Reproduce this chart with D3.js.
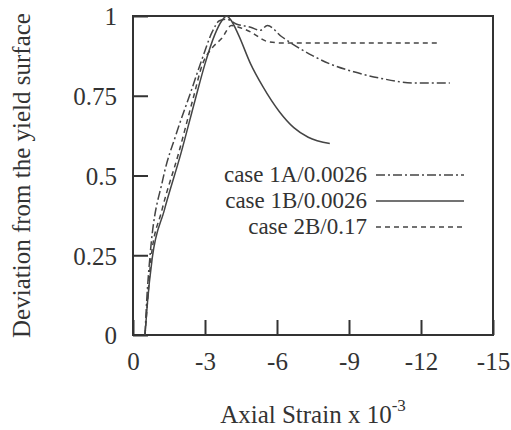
<!DOCTYPE html>
<html>
<head>
<meta charset="utf-8">
<script src="https://cdn.jsdelivr.net/npm/d3@7"></script>
<style>
  body { margin: 0; background: #fff; }
  text { font-family: "Liberation Serif", "DejaVu Serif", serif; fill: #333; }
</style>
</head>
<body>
<svg id="chart"></svg>
<script>
// strain values are in units of 10^-3 (negative = compression)
const xTicks = [0, -3, -6, -9, -12, -15];
const yTicks = [0, 0.25, 0.5, 0.75, 1];

const case1A = [
  [-0.5, 0], [-0.58, 0.12], [-0.7, 0.24], [-1.25, 0.49], [-1.8, 0.63], [-2.4, 0.76],
  [-2.9, 0.87], [-3.3, 0.95], [-3.6, 0.985], [-3.9, 0.99], [-4.3, 0.975], [-4.9, 0.965],
  [-5.3, 0.955], [-5.6, 0.97], [-6.2, 0.935], [-6.8, 0.905], [-7.5, 0.875], [-8.2, 0.85],
  [-9.2, 0.825], [-10.3, 0.805], [-11.7, 0.79], [-13.2, 0.79]
];
const case1B = [
  [-0.5, 0], [-0.6, 0.1], [-0.8, 0.24], [-1.3, 0.39], [-2.0, 0.57], [-2.6, 0.74],
  [-3.0, 0.85], [-3.4, 0.94], [-3.7, 0.985], [-3.9, 1.0], [-4.1, 0.985], [-4.4, 0.94],
  [-4.9, 0.85], [-5.4, 0.78], [-6.1, 0.70], [-6.7, 0.65], [-7.3, 0.62], [-8.2, 0.60]
];
const case2B = [
  [-0.5, 0], [-0.6, 0.1], [-0.75, 0.24], [-1.2, 0.39], [-1.9, 0.57], [-2.5, 0.74],
  [-2.9, 0.85], [-3.3, 0.9], [-3.7, 0.93], [-4.1, 0.97], [-4.4, 0.965], [-4.9, 0.95],
  [-5.6, 0.92], [-6.3, 0.915], [-12.8, 0.915]
];

const series = [
  { name: "case 1A/0.0026", data: case1A, dash: "9,3,2,3" },
  { name: "case 1B/0.0026", data: case1B, dash: null },
  { name: "case 2B/0.17", data: case2B, dash: "5,4" }
];

const W = 511, H = 430;
const box = { left: 133, right: 493, top: 16, bottom: 335 };
const fontSize = "25px";

const svg = d3.select("#chart").attr("width", W).attr("height", H);

const x = d3.scaleLinear().domain([0, -15]).range([box.left, box.right]);
const y = d3.scaleLinear().domain([0, 1]).range([box.bottom, box.top]);

const fmt = d => String(d);

// axes with inward ticks
const gx = svg.append("g")
  .attr("transform", `translate(0,${box.bottom})`)
  .call(d3.axisBottom(x).tickValues(xTicks).tickFormat(fmt).tickSizeInner(-15).tickSizeOuter(0).tickPadding(17));
const gy = svg.append("g")
  .attr("transform", `translate(${box.left},0)`)
  .call(d3.axisLeft(y).tickValues(yTicks).tickFormat(fmt).tickSizeInner(-15).tickSizeOuter(0).tickPadding(16));

[gx, gy].forEach(g => {
  g.select(".domain").remove();
  g.selectAll(".tick line").attr("stroke", "#333").attr("stroke-width", 2);
  g.selectAll(".tick text").style("font-size", fontSize).attr("fill", "#333");
});
gy.selectAll(".tick text").attr("dy", "0.35em");

// frame
svg.append("rect")
  .attr("x", box.left).attr("y", box.top)
  .attr("width", box.right - box.left).attr("height", box.bottom - box.top)
  .attr("fill", "none").attr("stroke", "#333").attr("stroke-width", 2);

const line = d3.line()
  .x(d => x(d[0]))
  .y(d => y(d[1]))
  .curve(d3.curveMonotoneX);

svg.selectAll(".series")
  .data(series)
  .enter()
  .append("path")
  .attr("class", "series")
  .attr("d", d => line(d.data))
  .attr("fill", "none")
  .attr("stroke", "#444")
  .attr("stroke-width", 1.5)
  .attr("stroke-dasharray", d => d.dash);

// legend (tight rows like the original)
const leg = svg.append("g");
series.forEach((s, i) => {
  const base = 182 + i * 26;
  leg.append("text")
    .attr("x", 367).attr("y", base)
    .attr("text-anchor", "end")
    .style("font-size", "23px")
    .text(s.name);
  leg.append("line")
    .attr("x1", 376).attr("x2", 464)
    .attr("y1", base - 7).attr("y2", base - 7)
    .attr("stroke", "#444").attr("stroke-width", 1.5)
    .attr("stroke-dasharray", s.dash);
});

// axis titles
svg.append("text")
  .attr("transform", `translate(30,${(box.top + box.bottom) / 2}) rotate(-90)`)
  .attr("text-anchor", "middle")
  .style("font-size", fontSize)
  .text("Deviation from the yield surface");

const xt = svg.append("text")
  .attr("x", 313).attr("y", 423)
  .attr("text-anchor", "middle")
  .style("font-size", fontSize);
xt.append("tspan").text("Axial Strain x 10");
xt.append("tspan").attr("dy", -12).style("font-size", "17px").text("-3");
</script>
</body>
</html>
